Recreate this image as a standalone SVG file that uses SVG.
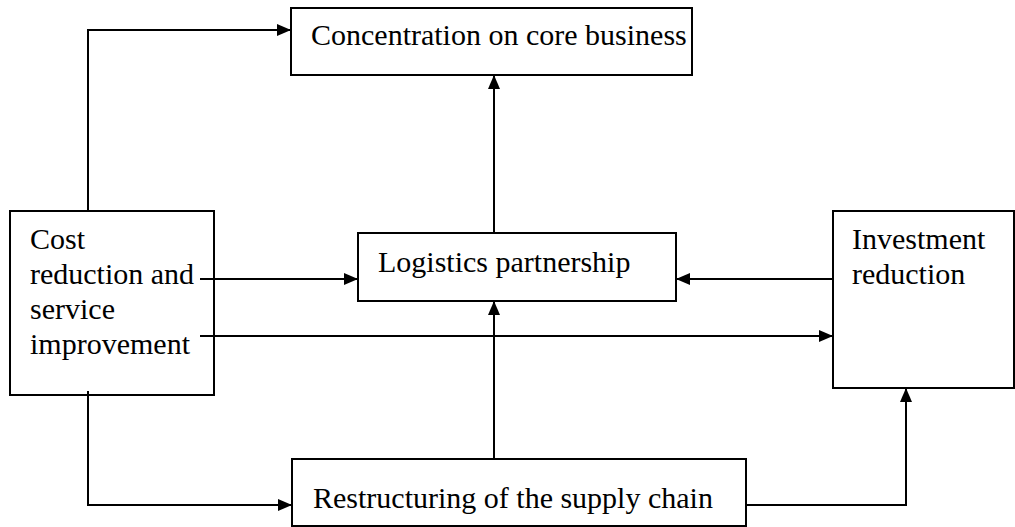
<svg xmlns="http://www.w3.org/2000/svg" width="1015" height="527" viewBox="0 0 1015 527">
  <style>
    .box { fill: #ffffff; stroke: #000000; stroke-width: 2; }
    .lbl { font-family: "Liberation Serif", "Times New Roman", serif; font-size: 30px; fill: #000000; }
    .link { fill: none; stroke: #000000; stroke-width: 2; marker-end: url(#arrow); }
  </style>
  <defs>
    <marker id="arrow" markerUnits="userSpaceOnUse" markerWidth="14" markerHeight="12" refX="14" refY="6" orient="auto">
      <path d="M0,0 L14,6 L0,12 Z" fill="#000000"/>
    </marker>
  </defs>
  <rect width="1015" height="527" fill="#ffffff"/>

  <g id="node-core">
    <rect class="box" x="291" y="8" width="401" height="67"/>
    <text class="lbl" x="311" y="45">Concentration on core business</text>
  </g>

  <g id="node-cost">
    <rect class="box" x="10" y="211" width="204" height="184"/>
    <text class="lbl" x="30" y="249">Cost</text>
    <text class="lbl" x="30" y="284">reduction and</text>
    <text class="lbl" x="30" y="319">service</text>
    <text class="lbl" x="30" y="354">improvement</text>
  </g>

  <g id="node-logistics">
    <rect class="box" x="358" y="233" width="318" height="68"/>
    <text class="lbl" x="378" y="272">Logistics partnership</text>
  </g>

  <g id="node-investment">
    <rect class="box" x="833" y="211" width="181" height="177"/>
    <text class="lbl" x="852" y="249">Investment</text>
    <text class="lbl" x="852" y="284">reduction</text>
  </g>

  <g id="node-restructuring">
    <rect class="box" x="292" y="459" width="454" height="67"/>
    <text class="lbl" x="313" y="508">Restructuring of the supply chain</text>
  </g>

  <g id="connectors">
    <path class="link" d="M88,211 V30 H291"/>
    <path class="link" d="M494,233 V75"/>
    <path class="link" d="M200,279 H358"/>
    <path class="link" d="M833,279 H676"/>
    <path class="link" d="M200,336 H833"/>
    <path class="link" d="M494,459 V301"/>
    <path class="link" d="M88,391 V505 H292"/>
    <path class="link" d="M746,505 H906 V388"/>
  </g>
</svg>
